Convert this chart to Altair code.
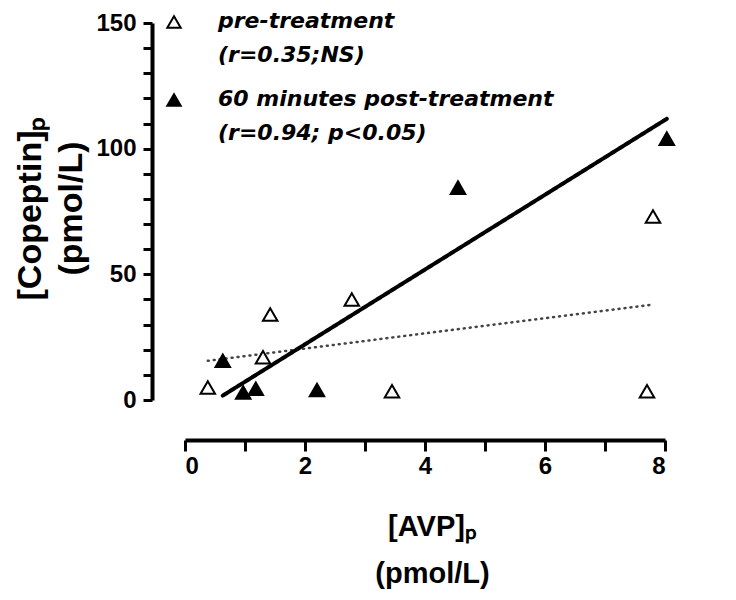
import altair as alt
import pandas as pd

groups = ["pre-treatment", "60 minutes post-treatment"]
stats = ["(r=0.35;NS)", "(r=0.94; p<0.05)"]

pre_avp = [0.38, 1.30, 1.42, 2.78, 3.45, 7.70, 7.80]
pre_copeptin = [5, 17, 34, 40, 3.5, 3.5, 73]
post_avp = [0.63, 0.97, 1.18, 2.20, 4.55, 8.03]
post_copeptin = [15.6, 3, 4.5, 4, 84.5, 104]

x_ticks = list(range(0, 9))
y_ticks = list(range(0, 151, 10))

df = pd.DataFrame({
    "avp": pre_avp + post_avp,
    "copeptin": pre_copeptin + post_copeptin,
    "group": [groups[0]] * len(pre_avp) + [groups[1]] * len(post_avp),
})
legend_df = pd.DataFrame({
    "group": groups,
    "label": [g + "\n" + s for g, s in zip(groups, stats)],
})

fill_scale = alt.Scale(domain=groups, range=["white", "black"])

x_enc = alt.X(
    "avp:Q",
    scale=alt.Scale(domain=[0, 8], nice=False),
    axis=alt.Axis(
        values=x_ticks,
        labelExpr="datum.value % 2 == 0 ? datum.label : ''",
        offset=40, tickSize=11, labelPadding=3,
        title=["[AVP]ₚ", "(pmol/L)"],
        titleX=247, titleY=72, titleBaseline="top", titleAlign="center",
        titleFont="Liberation Sans",
        titleFontSize=29, titleLineHeight=47,
    ),
)
y_enc = alt.Y(
    "copeptin:Q",
    scale=alt.Scale(domain=[0, 150], nice=False),
    axis=alt.Axis(
        values=y_ticks,
        labelExpr="datum.value % 50 == 0 ? datum.label : ''",
        offset=33, tickSize=9, labelPadding=7,
        title=["[Copeptin]ₚ", "(pmol/L)"],
        titleX=-139, titleY=185, titleBaseline="top", titleAlign="center",
        titleAngle=270, titleFont="Liberation Sans",
        titleFontSize=34, titleLineHeight=41,
    ),
)

lines = alt.Chart(df).transform_regression(
    "avp", "copeptin", groupby=["group"]
).mark_line(strokeCap="round", clip=False).encode(
    x=x_enc, y=y_enc,
    detail="group:N",
    strokeDash=alt.StrokeDash("group:N", scale=alt.Scale(domain=groups, range=[[1, 5], [1, 0]]), legend=None),
    strokeWidth=alt.StrokeWidth("group:N", scale=alt.Scale(domain=groups, range=[2.5, 4]), legend=None),
    color=alt.Color("group:N", scale=alt.Scale(domain=groups, range=["#444444", "black"]), legend=None),
)

points = alt.Chart(df).mark_point(
    shape="triangle-up", size=210, filled=True, stroke="black", strokeWidth=2, opacity=1, clip=False
).encode(
    x=x_enc, y=y_enc,
    fill=alt.Fill("group:N", scale=fill_scale, legend=None),
)

leg_y = alt.Y("group:N", scale=alt.Scale(type="point", domain=groups, range=[-1, 77], padding=0), axis=None)

leg_pts = alt.Chart(legend_df).mark_point(
    shape="triangle-up", size=180, filled=True, stroke="black", strokeWidth=2, opacity=1
).encode(
    x=alt.value(-11), y=leg_y,
    fill=alt.Fill("group:N", scale=fill_scale, legend=None),
)

leg_text = alt.Chart(legend_df).mark_text(
    align="left", baseline="alphabetic", dy=6, lineBreak="\n",
    font="DejaVu Sans", fontWeight="bold", fontStyle="italic",
    fontSize=22, lineHeight=34, color="black",
).encode(
    x=alt.value(33), y=leg_y, text="label:N",
)

main = alt.layer(lines, points)
legend = alt.layer(leg_pts, leg_text)

chart = alt.layer(main, legend).resolve_scale(y="independent").properties(
    width=480, height=377,
    autosize=alt.AutoSizeParams(type="none"),
    padding={"left": 177, "top": 15, "right": 63, "bottom": 192},
).configure_view(strokeWidth=0).configure_axis(
    grid=False,
    domainColor="black", domainWidth=4,
    tickColor="black", tickWidth=3,
    labelFont="Liberation Sans", labelFontWeight="bold", labelFontSize=24, labelColor="black",
    titleFontWeight="bold", titleColor="black",
)

chart.save("out.html", embed_options={"renderer": "svg", "actions": False})
